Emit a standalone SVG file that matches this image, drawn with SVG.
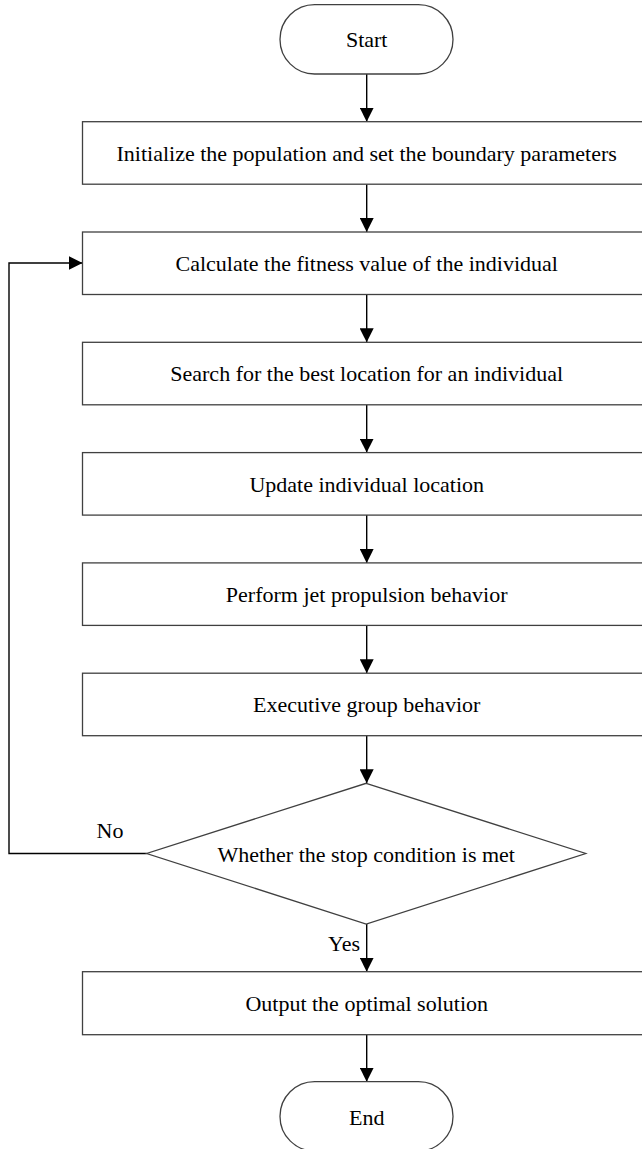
<svg xmlns="http://www.w3.org/2000/svg" width="642" height="1149" viewBox="0 0 642 1149">
<style>
.box{fill:#fff;stroke:#404040;stroke-width:1.3}
.ln{fill:none;stroke:#000;stroke-width:1.4}
text{font-family:"Liberation Serif","Times New Roman",serif;font-size:22px;fill:#000;text-anchor:middle}
</style>
<defs>
<marker id="ah" markerUnits="userSpaceOnUse" markerWidth="14" markerHeight="14" refX="14" refY="7" orient="auto">
<path d="M0,0 L14,7 L0,14 Z" fill="#000"/>
</marker>
</defs>
<rect width="642" height="1149" fill="#fff"/>
<g id="connectors">
<line class="ln" x1="366.7" y1="74" x2="366.7" y2="121.7" marker-end="url(#ah)"/>
<line class="ln" x1="366.7" y1="184.2" x2="366.7" y2="232" marker-end="url(#ah)"/>
<line class="ln" x1="366.7" y1="294.5" x2="366.7" y2="342.3" marker-end="url(#ah)"/>
<line class="ln" x1="366.7" y1="404.8" x2="366.7" y2="452.6" marker-end="url(#ah)"/>
<line class="ln" x1="366.7" y1="515.1" x2="366.7" y2="562.9" marker-end="url(#ah)"/>
<line class="ln" x1="366.7" y1="625.4" x2="366.7" y2="673.2" marker-end="url(#ah)"/>
<line class="ln" x1="366.7" y1="735.7" x2="366.7" y2="783.3" marker-end="url(#ah)"/>
<line class="ln" x1="366.7" y1="924" x2="366.7" y2="971.7" marker-end="url(#ah)"/>
<line class="ln" x1="366.7" y1="1034.7" x2="366.7" y2="1081.7" marker-end="url(#ah)"/>
<polyline class="ln" points="146.7,853.5 9,853.5 9,263 82.5,263" marker-end="url(#ah)"/>
<text x="110" y="838">No</text>
<text x="360" y="951" style="text-anchor:end">Yes</text>
</g>
<g id="start">
<rect class="box" x="280" y="4.7" width="173" height="69.3" rx="34.6" ry="34.6"/>
<text x="366.7" y="46.7">Start</text>
</g>
<g id="init">
<rect class="box" x="82.5" y="121.7" width="568" height="62.5"/>
<text x="366.7" y="160.7">Initialize the population and set the boundary parameters</text>
</g>
<g id="fitness">
<rect class="box" x="82.5" y="232" width="568" height="62.5"/>
<text x="366.7" y="271">Calculate the fitness value of the individual</text>
</g>
<g id="search">
<rect class="box" x="82.5" y="342.3" width="568" height="62.5"/>
<text x="366.7" y="381.3">Search for the best location for an individual</text>
</g>
<g id="update">
<rect class="box" x="82.5" y="452.6" width="568" height="62.5"/>
<text x="366.7" y="491.6">Update individual location</text>
</g>
<g id="jet">
<rect class="box" x="82.5" y="562.9" width="568" height="62.5"/>
<text x="366.7" y="601.9">Perform jet propulsion behavior</text>
</g>
<g id="group">
<rect class="box" x="82.5" y="673.2" width="568" height="62.5"/>
<text x="366.7" y="712.2">Executive group behavior</text>
</g>
<g id="decision">
<polygon class="box" points="366.2,783.3 585.7,853.5 366.2,924 146.7,853.5"/>
<text x="366.2" y="861.5">Whether the stop condition is met</text>
</g>
<g id="output">
<rect class="box" x="82.5" y="971.7" width="568" height="63"/>
<text x="366.7" y="1011">Output the optimal solution</text>
</g>
<g id="end">
<rect class="box" x="280" y="1081.7" width="173" height="69.3" rx="34.6" ry="34.6"/>
<text x="366.7" y="1125">End</text>
</g>
</svg>
